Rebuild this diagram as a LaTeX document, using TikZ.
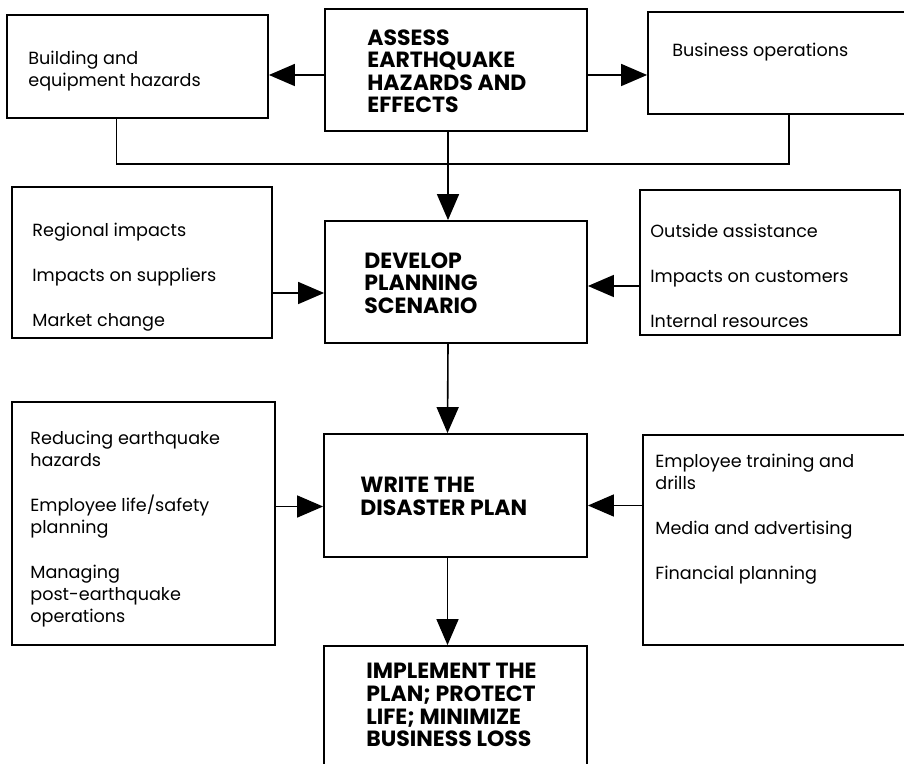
\documentclass[tikz,border=0pt]{standalone}
\usepackage{fontspec}
\setmainfont{Poppins}
\usepackage{tikz}
\usetikzlibrary{arrows.meta,fit,calc}

\tikzset{
  box/.style={draw, line width=0.9pt, inner sep=0pt},
  line/.style={line width=0.8pt},
  arr/.style={line, -{Triangle[length=13pt,width=11pt]}},
  item/.style={anchor=north west, inner sep=0pt, align=left, font=\fontsize{8.8}{11}\selectfont},
  head/.style={anchor=north west, inner sep=0pt, align=left, font=\bfseries\fontsize{11}{11.3}\selectfont}
}

\begin{document}
\begin{tikzpicture}[x=0.5pt,y=-0.5pt]
		\clip (0,0) rectangle (904,764);
		\node[box, fit={(7,15) (268,118)}] (build) {};
		\node[box, fit={(325,9) (587,131)}] (assess) {};
		\node[box, fit={(648,12) (910,114)}] (busi) {};
		\node[box, fit={(12,187) (272,338)}] (region) {};
		\node[box, fit={(325,221) (587,343)}] (develop) {};
		\node[box, fit={(640,190) (900,335)}] (outside) {};
		\node[box, fit={(12,402) (275,645)}] (reduce) {};
		\node[box, fit={(324,434) (587,557)}] (write) {};
		\node[box, fit={(643,435) (910,645)}] (train) {};
		\node[box, fit={(324,646) (587,790)}] (impl) {};
		\node[item] (buildtxt) at (28,51) {Building and\\equipment hazards};
		\node[item] (busitxt) at (672,43) {Business operations};
		\node[item] (regiontxt) at (32,223) {Regional impacts\\[11.5pt]Impacts on suppliers\\[11.5pt]Market change};
		\node[item] (outsidetxt) at (650,224) {Outside assistance\\[11.5pt]Impacts on customers\\[11.5pt]Internal resources};
		\node[item] (reducetxt) at (30,431) {Reducing earthquake\\hazards\\[11.5pt]Employee life/safety\\planning\\[11.5pt]Managing\\post-earthquake\\operations};
		\node[item] (traintxt) at (655,454) {Employee training and\\drills\\[11.5pt]Media and advertising\\[11.5pt]Financial planning};
		\node[head] (assesstxt) at (367,29) {ASSESS\\EARTHQUAKE\\HAZARDS AND\\EFFECTS};
		\node[head] (developtxt) at (364,252) {DEVELOP\\PLANNING\\SCENARIO};
		\node[head] (writetxt) at (360,477) {WRITE THE\\DISASTER PLAN};
		\node[head] (impltxt) at (366,663) {IMPLEMENT THE\\PLAN; PROTECT\\LIFE; MINIMIZE\\BUSINESS LOSS};
		\draw[arr] ($(assess.west)+(0,5)$) -- ($(assess.west -| build.east)+(0,5)$);
		\draw[arr] ($(assess.east)+(0,5)$) -- ($(assess.east -| busi.west)+(0,5)$);
		\draw[line] ($(build.south)+(-21,0)$) -- ++(0,45) -| ($(busi.south)+(10,0)$);
		\draw[arr] ($(assess.south)+(-8,0)$) -- ($(develop.north)+(-8,0)$);
		\draw[arr] ($(develop.west -| region.east)+(0,11)$) -- ($(develop.west)+(0,11)$);
		\draw[arr] ($(develop.east -| outside.west)+(0,4)$) -- ($(develop.east)+(0,4)$);
		\draw[arr] ($(develop.south)+(-8,0)$) -- ($(write.north)+(-8,0)$);
		\draw[arr] ($(write.west -| reduce.east)+(0,11)$) -- ($(write.west)+(0,11)$);
		\draw[arr] ($(write.east -| train.west)+(0,10)$) -- ($(write.east)+(0,10)$);
		\draw[arr] ($(write.south)+(-8,0)$) -- ($(impl.north)+(-8,0)$);
\end{tikzpicture}
\end{document}
